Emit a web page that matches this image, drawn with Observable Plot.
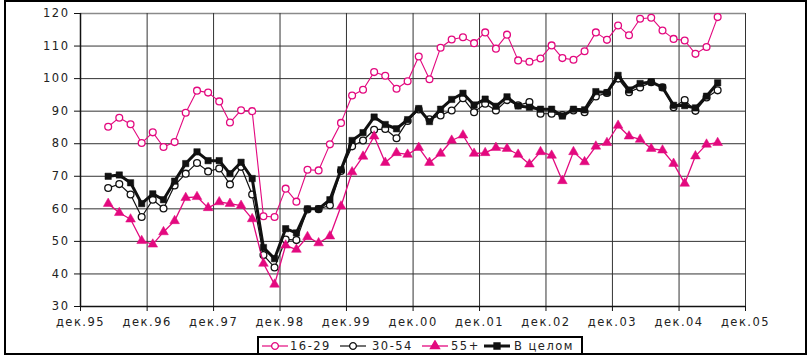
<!DOCTYPE html>
<html>
<head>
<meta charset="utf-8">
<script src="https://cdn.jsdelivr.net/npm/d3@7"></script>
<script src="https://cdn.jsdelivr.net/npm/@observablehq/plot@0.6"></script>
<style>
  html, body { margin: 0; padding: 0; background: #fff; }
  #wrap { position: relative; width: 810px; height: 358px; overflow: hidden; }
  #frame { position: absolute; left: 4px; top: 0px; width: 803px; height: 355px; border: 2px solid #000; box-sizing: border-box; pointer-events: none; }
  #chart { position: absolute; left: 0; top: 0; }
  #legend { position: absolute; left: 257px; top: 336px; width: 326px; height: 19px; border: 2px solid #000; box-sizing: border-box; background: #fff;
            font-family: "DejaVu Sans", sans-serif; font-size: 11.5px; letter-spacing: 1.5px; color: #222; }
  .item-sym { position: absolute; top: 2px; }
  .item-txt { position: absolute; top: 1px; line-height: 14px; white-space: nowrap; }
</style>
</head>
<body>
<div id="wrap">
  <div id="chart"></div>
  <div id="frame"></div>
  <div id="legend"></div>
</div>
<script>
const months = ["1996-05","1996-07","1996-09","1996-11",
  "1997-01","1997-03","1997-05","1997-07","1997-09","1997-11",
  "1998-01","1998-03","1998-05","1998-07","1998-09","1998-11",
  "1999-01","1999-03","1999-05","1999-07","1999-09","1999-11",
  "2000-01","2000-03","2000-05","2000-07","2000-09","2000-11",
  "2001-01","2001-03","2001-05","2001-07","2001-09","2001-11",
  "2002-01","2002-03","2002-05","2002-07","2002-09","2002-11",
  "2003-01","2003-03","2003-05","2003-07","2003-09","2003-11",
  "2004-01","2004-03","2004-05","2004-07","2004-09","2004-11",
  "2005-01","2005-03","2005-05","2005-07"];

const s1629 = [85.2,88,86,80.2,83.5,79,80.5,89.5,96.3,95.7,
  93,86.5,90.3,90,57.7,57.5,66.2,62.2,72,71.8,
  79.8,86.4,94.8,96.6,102,100.9,96.9,99.2,106.8,99.8,
  109.5,112,112.7,110.9,114.2,109.2,113.5,105.6,105.2,106.2,
  110.2,106.3,105.8,108.4,114.2,111.9,116.3,113.3,118.4,118.7,
  114.8,112.2,111.7,107.6,109.7,118.9];

const s3054 = [66.4,67.6,64.4,57.5,62.8,60.1,67.2,70.8,74.1,71.5,
  72.4,67.5,72.9,64.4,45.8,42,50.6,50.4,59.8,59.9,
  61.1,71.6,79.2,81,84.3,84.5,81.7,87,90.5,87.5,
  88.7,90.2,94,89.7,92.3,90.2,93.4,91.8,92.8,89.2,
  89.2,88.8,90.2,89.7,94.5,95.6,100,95.8,97.3,98.9,
  97.3,91.2,93.4,90.1,94.2,96.4];

const s55 = [61.6,58.8,56.8,50.2,49.1,52.9,56.3,63.4,63.7,60.3,
  62.1,61.6,61,56.9,43.2,36.8,48.8,47.5,51.4,49.5,
  51.6,60.8,71.3,76.1,82.3,74.2,77.2,76.7,78.8,74.2,
  77,81,82.6,77,77.2,78.8,78.5,76.7,73.7,77.5,
  76.4,68.6,77.5,74.4,79.2,80.3,85.6,82.3,81.3,78.5,
  78,73.9,67.8,76.2,79.8,80.3];

const sTotal = [70,70.4,68,61.6,64.6,62.8,68.5,73.9,77.5,74.8,
  74.8,70.8,74.3,69.3,48.1,44.7,53.9,52.6,60,60,
  62.8,72,81,83.4,88.2,85.9,84.6,87.4,90.8,86.8,
  90.6,93.6,95.5,91.9,93.7,91.5,94.4,91.6,91.2,90.6,
  90.6,88.5,90.6,90.4,96,95.7,101,96.5,98.5,99,
  97.3,91.8,91.7,91,94.6,98.7];

const seriesNames = ["16-29", "30-54", "55+", "В целом"];
const xTickDates = ["1995-12-01","1996-12-01","1997-12-01","1998-12-01","1999-12-01","2000-12-01",
  "2001-12-01","2002-12-01","2003-12-01","2004-12-01","2005-12-01"];
const xTickLabels = ["дек.95","дек.96","дек.97","дек.98","дек.99","дек.00","дек.01","дек.02","дек.03","дек.04","дек.05"];
const yTicks = [30,40,50,60,70,80,90,100,110,120];

const PINK = "#e3097f";
const BLACK = "#111";

const table = months.map((m, i) => ({
  date: new Date(m + "-01T00:00:00Z"),
  a: s1629[i], b: s3054[i], c: s55[i], t: sTotal[i]
}));
const xTicks = xTickDates.map(d => new Date(d + "T00:00:00Z"));
const labelOf = new Map(xTicks.map((d, i) => [+d, xTickLabels[i]]));

const chart = Plot.plot({
  width: 810,
  height: 358,
  marginLeft: 80,
  marginRight: 65,
  marginTop: 13,
  marginBottom: 52,
  style: { fontFamily: "DejaVu Sans, sans-serif", fontSize: "11.5px", color: "#222", background: "transparent", letterSpacing: "1.5px" },
  x: { type: "utc", domain: [xTicks[0], xTicks[xTicks.length - 1]] },
  y: { domain: [30, 120] },
  marks: [
    Plot.ruleY(yTicks.filter(v => v > 30 && v < 120), { stroke: "#333", strokeWidth: 1 }),
    Plot.ruleY([120], { stroke: "#8a8a8a", strokeWidth: 1.5 }),
    Plot.ruleX(xTicks.slice(1), { stroke: "#333", strokeWidth: 1 }),
    Plot.ruleX([xTicks[0]], { stroke: "#111", strokeWidth: 1.5 }),
    Plot.ruleY([30], { stroke: "#111", strokeWidth: 1.5 }),
    Plot.axisY({ ticks: yTicks, tickSize: 6, tickPadding: 5, label: null, stroke: "#111" }),
    Plot.axisX({ ticks: xTicks, tickSize: 5, tickPadding: 6, label: null, tickFormat: d => labelOf.get(+d), stroke: "#111" }),
    // 16-29
    Plot.line(table, { x: "date", y: "a", stroke: PINK, strokeWidth: 1.1 }),
    Plot.dot(table, { x: "date", y: "a", r: 3.4, fill: "#fff", stroke: PINK, strokeWidth: 1.3 }),
    // 30-54
    Plot.line(table, { x: "date", y: "b", stroke: BLACK, strokeWidth: 1.2 }),
    Plot.dot(table, { x: "date", y: "b", r: 3.4, fill: "#fff", stroke: BLACK, strokeWidth: 1.3 }),
    // 55+
    Plot.line(table, { x: "date", y: "c", stroke: PINK, strokeWidth: 1.3 }),
    Plot.dot(table, { x: "date", y: "c", symbol: "triangle", r: 3.6, fill: PINK, stroke: PINK, strokeWidth: 0.5 }),
    // В целом
    Plot.line(table, { x: "date", y: "t", stroke: BLACK, strokeWidth: 3 }),
    Plot.dot(table, { x: "date", y: "t", symbol: "square", r: 3.6, fill: BLACK, stroke: BLACK, strokeWidth: 0.5 })
  ]
});
document.getElementById("chart").appendChild(chart);

// Legend
const legend = document.getElementById("legend");
const items = [
  { name: seriesNames[0], color: PINK, lw: 1.2, marker: "circle", fill: "#fff", sx: 2, tx: 31 },
  { name: seriesNames[1], color: BLACK, lw: 1.2, marker: "circle", fill: "#fff", sx: 80, tx: 113 },
  { name: seriesNames[2], color: PINK, lw: 1.3, marker: "triangle", fill: PINK, sx: 162, tx: 192 },
  { name: seriesNames[3], color: BLACK, lw: 3, marker: "square", fill: BLACK, sx: 224, tx: 255 }
];
for (const it of items) {
  const svg = d3.create("svg").attr("class", "item-sym").attr("width", 28).attr("height", 12)
    .style("left", it.sx + "px");
  svg.append("line").attr("x1", 1).attr("x2", 27).attr("y1", 6).attr("y2", 6)
    .attr("stroke", it.color).attr("stroke-width", it.lw);
  const sym = it.marker === "circle" ? d3.symbolCircle : it.marker === "triangle" ? d3.symbolTriangle : d3.symbolSquare;
  svg.append("path").attr("d", d3.symbol(sym, Math.PI * 3.4 * 3.4)())
    .attr("transform", "translate(14,6)")
    .attr("fill", it.fill).attr("stroke", it.color).attr("stroke-width", 1.3);
  legend.appendChild(svg.node());
  const span = document.createElement("span");
  span.className = "item-txt";
  span.style.left = it.tx + "px";
  span.textContent = it.name;
  legend.appendChild(span);
}
</script>
</body>
</html>
